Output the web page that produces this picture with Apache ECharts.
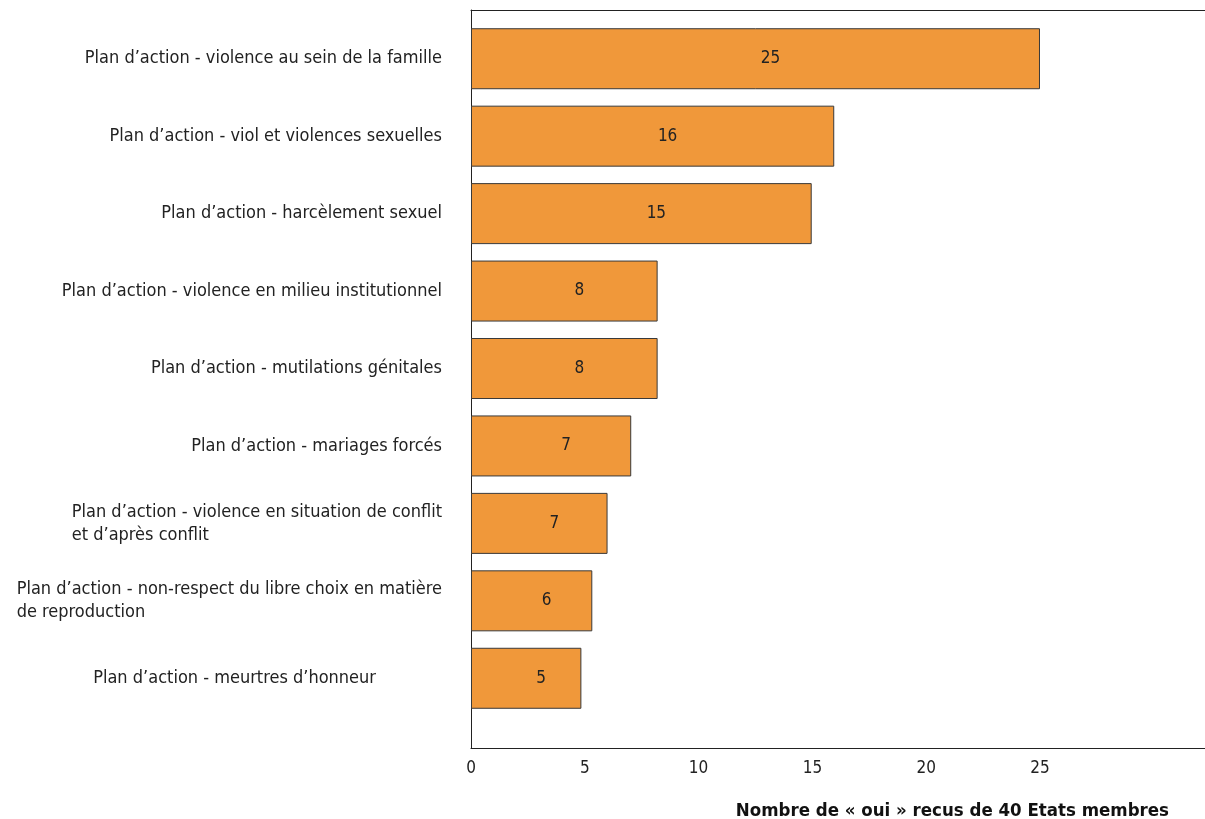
<!DOCTYPE html>
<html>
<head>
<meta charset="utf-8">
<script src="https://cdn.jsdelivr.net/npm/echarts@6/dist/echarts.min.js"></script>
<style>
    html, body {margin: 0; padding: 0; background: #fff;}
    #chart {width: 1205px; height: 819px;}
</style>
</head>
<body>
<div id="chart"></div>
<script>
// categories, top to bottom
const categories = [
    "Plan d’action - violence au sein de la famille",
    "Plan d’action - viol et violences sexuelles",
    "Plan d’action - harcèlement sexuel",
    "Plan d’action - violence en milieu institutionnel",
    "Plan d’action - mutilations génitales",
    "Plan d’action - mariages forcés",
    "Plan d’action - violence en situation de conflit\net d’après conflit",
    "Plan d’action - non-respect du libre choix en matière\nde reproduction",
    "Plan d’action - meurtres d’honneur"
];
// bar lengths as drawn, and the numbers printed on them
const barLengths = [25, 15.96, 14.97, 8.2, 8.2, 7.04, 6.0, 5.33, 4.85];
const barLabels = ["25", "16", "15", "8", "8", "7", "7", "6", "5"];
const xTicks = [0, 5, 10, 15, 20, 25];
const axisTitle = "Nombre de « oui » recus de 40 Etats membres";

const font = "'DejaVu Sans Condensed', 'DejaVu Sans', sans-serif";
const xMax = 32.25;

// the last label sits further left in the original
let categoryData = categories.map(function (c, i) {
    if (i === categories.length - 1) {
        return {value: c, textStyle: {padding: [0, 66, 0, 0]}};
    }
    return c;
});

let option = {
    animation: false,
    textStyle: {fontFamily: font},
    grid: [
        // frame
        {left: 471, right: 0, top: 10, bottom: 71, outerBoundsMode: 'none', containLabel: false},
        // bars
        {left: 471, right: 0, top: 20, bottom: 102, outerBoundsMode: 'none', containLabel: false}
    ],
    xAxis: [
        {
            gridIndex: 0, type: 'value', min: 0, max: xMax, interval: 5,
            axisLine: {show: true, lineStyle: {color: '#222', width: 1}},
            axisTick: {show: false},
            splitLine: {show: false},
            axisLabel: {
                color: '#222', fontSize: 17, margin: 12, fontFamily: font,
                formatter: function (v) {
                    return xTicks.indexOf(v) >= 0 ? String(v) : '';
                }
            },
            name: axisTitle, nameLocation: 'end', nameGap: 0,
            nameTextStyle: {
                fontSize: 18.5, fontWeight: 'bold', color: '#111', fontFamily: font,
                align: 'right', verticalAlign: 'top', padding: [54, 36, 0, 0]
            }
        },
        {
            gridIndex: 0, type: 'value', position: 'top', min: 0, max: xMax,
            axisLine: {show: true, lineStyle: {color: '#222', width: 1}},
            axisTick: {show: false}, axisLabel: {show: false}, splitLine: {show: false}
        },
        {
            gridIndex: 1, type: 'value', min: 0, max: xMax, show: false
        }
    ],
    yAxis: [
        {
            gridIndex: 0, type: 'value', min: 0, max: 1,
            axisLine: {show: true, lineStyle: {color: '#222', width: 1}},
            axisTick: {show: false}, axisLabel: {show: false}, splitLine: {show: false}
        },
        {
            gridIndex: 1, type: 'category', inverse: true,
            data: categoryData,
            axisLine: {show: false},
            axisTick: {show: false},
            axisLabel: {
                margin: 29,
                formatter: function (v) {
                    return v.split('\n').map(function (l) { return '{a|' + l + '}'; }).join('\n');
                },
                rich: {
                    a: {fontSize: 18, color: '#222', fontFamily: font, align: 'left', lineHeight: 23}
                }
            }
        }
    ],
    series: [
        {
            type: 'bar',
            xAxisIndex: 2,
            yAxisIndex: 1,
            data: barLengths,
            barWidth: 61,
            itemStyle: {color: '#F0983A', borderColor: '#3a3a3a', borderWidth: 1},
            label: {
                show: true,
                position: 'inside',
                offset: [15, 0],
                fontSize: 17,
                color: '#222',
                fontFamily: font,
                formatter: function (p) { return barLabels[p.dataIndex]; }
            }
        }
    ]
};

echarts.init(document.getElementById('chart')).setOption(option);
</script>
</body>
</html>
